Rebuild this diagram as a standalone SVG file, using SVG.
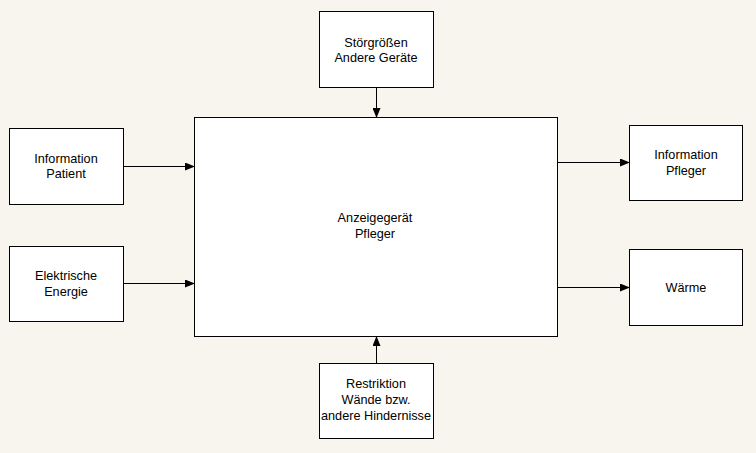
<svg xmlns="http://www.w3.org/2000/svg" width="756" height="453" viewBox="0 0 756 453">
<style>
.box{fill:#fff;stroke:#000;stroke-width:1}
.t{font-family:"Liberation Sans",Arial,sans-serif;font-size:12.7px;fill:#000;text-anchor:middle}
.c{stroke:#000;stroke-width:1;fill:none;marker-end:url(#ah)}
</style>
<defs>
<marker id="ah" markerWidth="10" markerHeight="8" refX="9" refY="4" orient="auto" markerUnits="userSpaceOnUse">
<path d="M0,0 L10,4 L0,8 Z" fill="#000"/>
</marker>
</defs>
<rect width="756" height="453" fill="#f8f5ef"/>
<g id="main"><rect class="box" x="194.5" y="117.5" width="363" height="219"/>
<text class="t" x="375" y="222">Anzeigegerät</text><text class="t" x="375" y="238">Pfleger</text></g>
<g id="stoer"><rect class="box" x="319.5" y="11.5" width="114" height="76"/>
<text class="t" x="376" y="47">Störgrößen</text><text class="t" x="376" y="62">Andere Geräte</text></g>
<g id="infoPatient"><rect class="box" x="9.5" y="128.5" width="114" height="76"/>
<text class="t" x="66" y="163">Information</text><text class="t" x="66" y="178">Patient</text></g>
<g id="energie"><rect class="box" x="9.5" y="246.5" width="114" height="75"/>
<text class="t" x="66" y="280">Elektrische</text><text class="t" x="66" y="296">Energie</text></g>
<g id="infoPfleger"><rect class="box" x="629.5" y="125.5" width="113" height="75"/>
<text class="t" x="686" y="159">Information</text><text class="t" x="686" y="175">Pfleger</text></g>
<g id="waerme"><rect class="box" x="629.5" y="249.5" width="113" height="76"/>
<text class="t" x="686" y="292">Wärme</text></g>
<g id="restriktion"><rect class="box" x="319.5" y="363.5" width="114" height="75"/>
<text class="t" x="376" y="388">Restriktion</text><text class="t" x="376" y="404">Wände bzw.</text><text class="t" x="376" y="420">andere Hindernisse</text></g>
<g id="connectors">
<path class="c" d="M376.5,88 V117"/>
<path class="c" d="M124,166.5 H194"/>
<path class="c" d="M124,283.5 H194"/>
<path class="c" d="M558,162.5 H629"/>
<path class="c" d="M558,287.5 H629"/>
<path class="c" d="M376.5,363 V337"/>
</g>
</svg>
